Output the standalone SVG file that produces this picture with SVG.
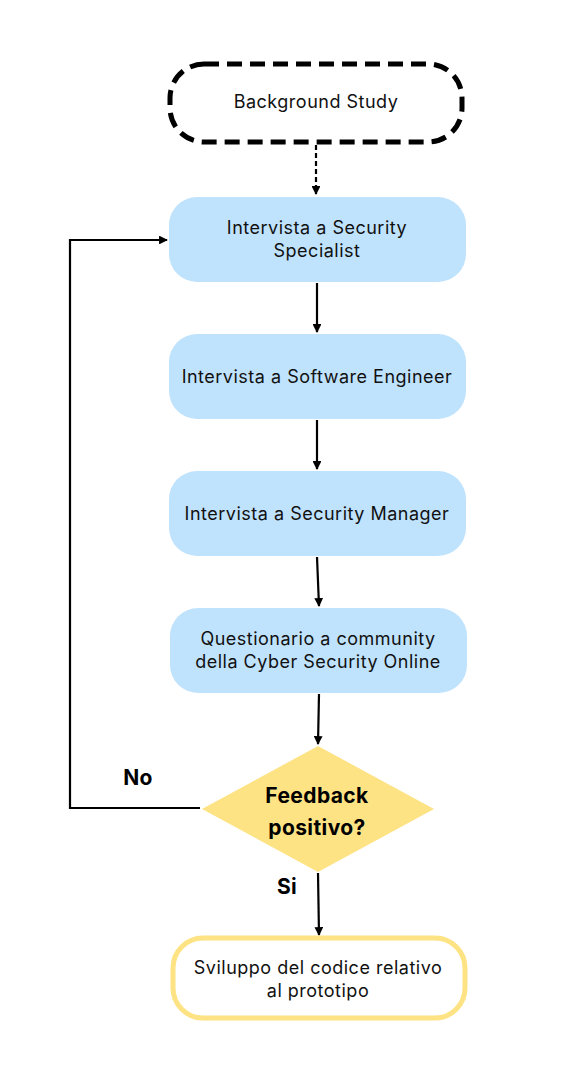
<svg xmlns="http://www.w3.org/2000/svg" width="568" height="1080" viewBox="0 0 568 1080">
<defs>
<style>
.t{font-family:Inter,"Open Sans","Liberation Sans",sans-serif;font-size:18px;letter-spacing:0.5px;fill:#111;text-anchor:middle}
.b{font-family:Inter,"Open Sans","Liberation Sans",sans-serif;font-size:21px;letter-spacing:0.4px;font-weight:700;fill:#000;text-anchor:middle}
.blue{fill:#c0e3fd}
.c{fill:none;stroke:#000;stroke-width:2.2}
</style>
<marker id="ah" viewBox="0 0 10 10" refX="9" refY="5" markerWidth="4" markerHeight="4" orient="auto" markerUnits="strokeWidth">
<path d="M0,0 L10,5 L0,10 z" fill="#000"/>
</marker>
</defs>
<rect width="568" height="1080" fill="#fff"/>
<g id="connectors">
<path class="c" d="M316,145 V194" stroke-dasharray="5,3" marker-end="url(#ah)"/>
<path class="c" d="M317,283 V332" marker-end="url(#ah)"/>
<path class="c" d="M317,420 V469" marker-end="url(#ah)"/>
<path class="c" d="M317,557 L319,606" marker-end="url(#ah)"/>
<path class="c" d="M319,694 L318,744" marker-end="url(#ah)"/>
<path class="c" d="M318,873 L319,935" marker-end="url(#ah)"/>
<path class="c" d="M200,808 H70 V240 H167" marker-end="url(#ah)"/>
<text class="b" x="138" y="785">No</text>
<text class="b" x="287" y="894">Si</text>
</g>
<g id="background">
<rect x="170" y="64" width="292" height="78" rx="34" fill="#fff" stroke="#000" stroke-width="5" stroke-dasharray="15,8"/>
<text class="t" x="316" y="108">Background Study</text>
</g>
<g id="n1">
<rect class="blue" x="169" y="197" width="297" height="85" rx="28"/>
<text class="t" x="317" y="234">Intervista a Security</text>
<text class="t" x="317" y="257">Specialist</text>
</g>
<g id="n2">
<rect class="blue" x="169" y="334" width="297" height="85" rx="28"/>
<text class="t" x="317" y="383">Intervista a Software Engineer</text>
</g>
<g id="n3">
<rect class="blue" x="169" y="471" width="297" height="85" rx="28"/>
<text class="t" x="317" y="520">Intervista a Security Manager</text>
</g>
<g id="n4">
<rect class="blue" x="170" y="608" width="297" height="85" rx="28"/>
<text class="t" x="318" y="645">Questionario a community</text>
<text class="t" x="318" y="668">della Cyber Security Online</text>
</g>
<g id="decision">
<polygon points="318,746 434,809 318,872 202,809" fill="#fee384"/>
<text class="b" x="317" y="803">Feedback</text>
<text class="b" x="317" y="835">positivo?</text>
</g>
<g id="final">
<rect x="173" y="938" width="292" height="80" rx="30" fill="#fff" stroke="#fee384" stroke-width="5"/>
<text class="t" x="318" y="974">Sviluppo del codice relativo</text>
<text class="t" x="318" y="997">al prototipo</text>
</g>
</svg>
